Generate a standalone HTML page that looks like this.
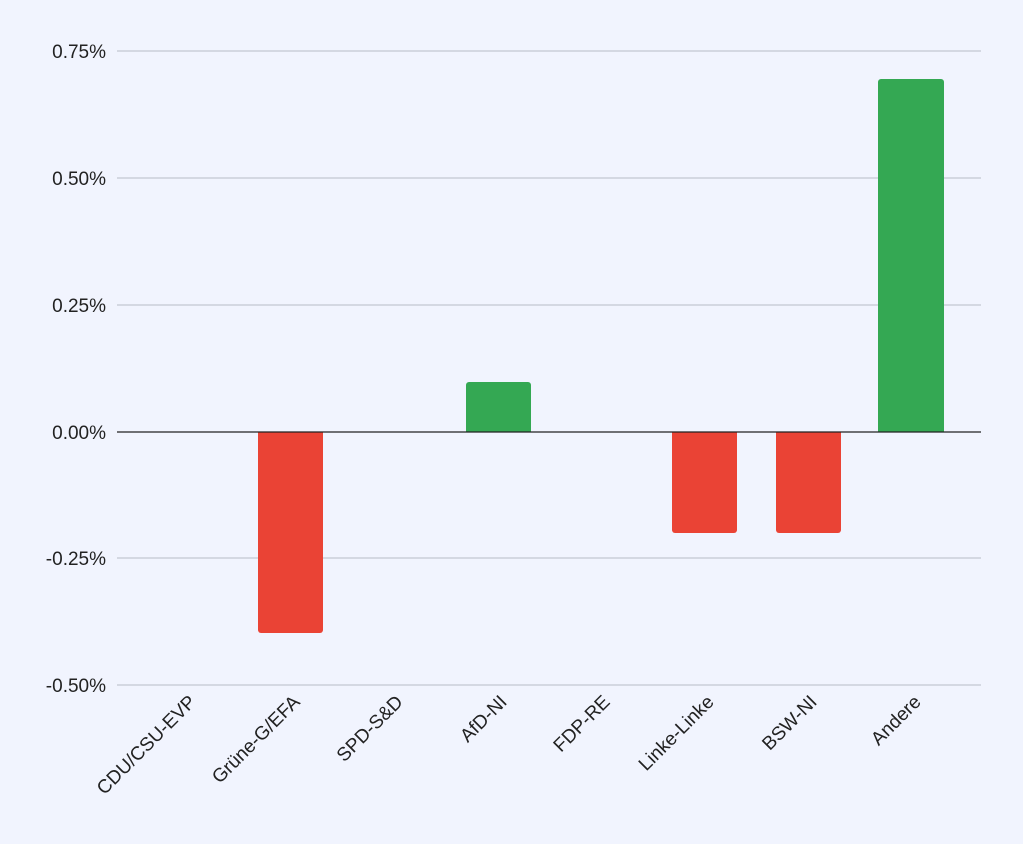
<!DOCTYPE html>
<html><head><meta charset="utf-8"><style>
html,body{margin:0;padding:0;background:#f1f4fe;}
</style></head><body>
<svg width="1023" height="844" xmlns="http://www.w3.org/2000/svg" style="display:block">
<rect width="1023" height="844" fill="#f1f4fe"/>
<g stroke="#c3c6d1" stroke-width="1.2">
<line x1="117" y1="51" x2="981" y2="51"/>
<line x1="117" y1="178" x2="981" y2="178"/>
<line x1="117" y1="305" x2="981" y2="305"/>
<line x1="117" y1="558" x2="981" y2="558"/>
<line x1="117" y1="685" x2="981" y2="685"/>
</g>
<g font-family="Liberation Sans, sans-serif" font-size="19" fill="#222" text-anchor="end">
<text x="106" y="58">0.75%</text>
<text x="106" y="185">0.50%</text>
<text x="106" y="312">0.25%</text>
<text x="106" y="439">0.00%</text>
<text x="106" y="565">-0.25%</text>
<text x="106" y="692">-0.50%</text>
</g>
<g>
<path d="M258 432 V630 a3 3 0 0 0 3 3 H320 a3 3 0 0 0 3 -3 V432 Z" fill="#ea4335"/>
<path d="M466 432 V385 a3 3 0 0 1 3 -3 H528 a3 3 0 0 1 3 3 V432 Z" fill="#34a853"/>
<path d="M672 432 V530 a3 3 0 0 0 3 3 H734 a3 3 0 0 0 3 -3 V432 Z" fill="#ea4335"/>
<path d="M776 432 V530 a3 3 0 0 0 3 3 H838 a3 3 0 0 0 3 -3 V432 Z" fill="#ea4335"/>
<path d="M878 432 V82 a3 3 0 0 1 3 -3 H941 a3 3 0 0 1 3 3 V432 Z" fill="#34a853"/>
</g>
<line x1="117" y1="432" x2="981" y2="432" stroke="#222" stroke-width="1.3"/>
<g font-family="Liberation Sans, sans-serif" font-size="19" fill="#222" text-anchor="end">
<text transform="translate(197,703) rotate(-45)">CDU/CSU-EVP</text>
<text transform="translate(301,703) rotate(-45)">Grüne-G/EFA</text>
<text transform="translate(404,703) rotate(-45)">SPD-S&amp;D</text>
<text transform="translate(508,703) rotate(-45)">AfD-NI</text>
<text transform="translate(611,703) rotate(-45)">FDP-RE</text>
<text transform="translate(715,703) rotate(-45)">Linke-Linke</text>
<text transform="translate(818,703) rotate(-45)">BSW-NI</text>
<text transform="translate(922,703) rotate(-45)">Andere</text>
</g>
</svg>
</body></html>
